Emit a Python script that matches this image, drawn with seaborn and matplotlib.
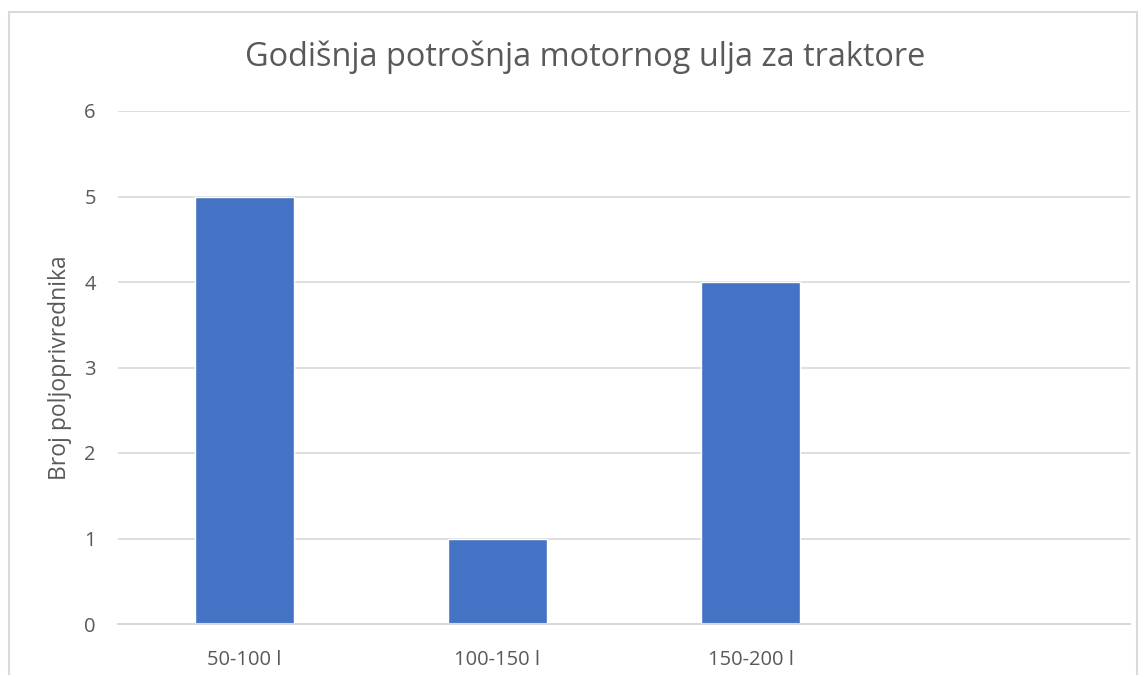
import matplotlib
matplotlib.use("Agg")
import matplotlib.pyplot as plt
import seaborn as sns
import pandas as pd
import numpy as np
from matplotlib.patches import Rectangle

categories = ["50-100 l", "100-150 l", "150-200 l", ""]
values = [5, 1, 4, np.nan]
title = "Godišnja potrošnja motornog ulja za traktore"
ylabel = "Broj poljoprivrednika"
yticks = [0, 1, 2, 3, 4, 5, 6]

sns.set_theme(style="white")
plt.rcParams["font.family"] = ["Open Sans", "DejaVu Sans"]
txt = "#595959"
grid = "#d9d9d9"

df = pd.DataFrame({"cat": categories, "val": values})

fig = plt.figure(figsize=(11.48, 6.75), dpi=100)
ax = fig.add_axes([118/1148, 1-624/675, (1130-118)/1148, (624-111)/675])

sns.barplot(data=df, x="cat", y="val", order=categories, color="#4472c4",
            saturation=1, width=0.39, ax=ax, zorder=3)

ax.set_xlim(-0.5, len(categories) - 0.5)
ax.set_ylim(0, 6)
ax.set_yticks(yticks)
ax.yaxis.grid(True, color=grid, linewidth=1.2, zorder=0)
ax.set_axisbelow(True)
for s in ["top", "right", "left"]:
    ax.spines[s].set_visible(False)
ax.spines["bottom"].set_color(grid)
ax.spines["bottom"].set_linewidth(1.5)
ax.spines["bottom"].set_zorder(4)

ax.set_xticks(range(len(categories)))
ax.set_xticklabels(categories)
ax.set_xticks(np.arange(-0.5, len(categories), 1.0), minor=True)
ax.tick_params(axis="x", which="major", length=0, pad=19, labelsize=14.5, labelcolor=txt)
ax.tick_params(axis="x", which="minor", length=6, width=1.2, color=grid, direction="out")
ax.tick_params(axis="y", length=0, pad=16, labelsize=14.5, labelcolor=txt)

ax.set_xlabel("")
ax.set_ylabel(ylabel, fontsize=16.5, color=txt, va="center")
ax.yaxis.set_label_coords((60-118)/1012, 0.5)
fig.text(585/1148, 1-57/675, title, fontsize=23.4, color=txt, ha="center", va="center")

fig.patches.append(Rectangle((9/1148, -0.05), (1137-9)/1148, 1-12/675+0.05,
                             transform=fig.transFigure, fill=False,
                             edgecolor=grid, linewidth=1.5, zorder=0))

fig.savefig("out.png", dpi=100)
